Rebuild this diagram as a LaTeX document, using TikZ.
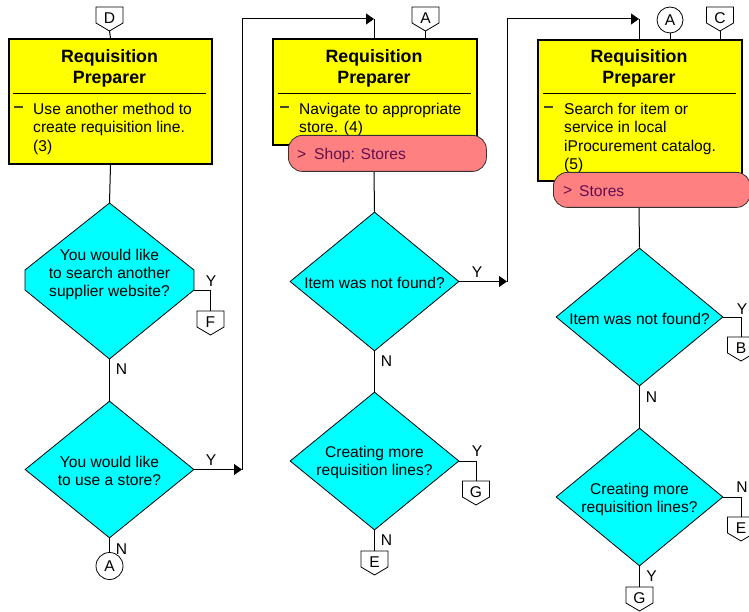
\documentclass[tikz,border=0pt]{standalone}
\usepackage{fontspec}
\setmainfont{Liberation Sans}
\usetikzlibrary{arrows.meta,shapes.geometric}
\definecolor{boxyellow}{RGB}{255,255,0}
\definecolor{dcyan}{RGB}{0,255,255}
\definecolor{pinkfill}{RGB}{255,128,128}
\definecolor{pinktext}{RGB}{96,16,80}
\definecolor{bulletc}{RGB}{70,70,40}
\newcommand\offpg[4]{%
  \draw[connline] (#2-13.5,#3) -- (#2+13.5,#3) -- (#2+13.5,#3+16) -- (#2,#3+24) -- (#2-13.5,#3+16) -- cycle;
  \node[lbl] (#1) at (#2,#3+11.5) {#4};
  \coordinate (#1-t) at (#2,#3);
  \coordinate (#1-b) at (#2,#3+24);
}
\begin{document}
\begin{tikzpicture}[x=1pt,y=-1pt,
  line/.style={draw=black, line width=1pt},
  arr/.style={line, -{Triangle[length=8pt,width=11pt]}},
  ybox/.style={draw=black, line width=2pt, fill=boxyellow, inner sep=0pt, anchor=north west},
  dia/.style={diamond, draw=black, line width=0.8pt, fill=dcyan, inner sep=0pt},
  dtext/.style={font=\fontsize{15.6}{18}\selectfont, align=center, inner sep=0pt},
  ttl/.style={font=\fontsize{17.8}{21}\selectfont\bfseries, align=center, inner sep=0pt, anchor=north},
  body/.style={font=\fontsize{15.6}{18.5}\selectfont, align=left, inner sep=0pt, anchor=north west},
  lbl/.style={font=\fontsize{15.6}{18}\selectfont, inner sep=0pt},
  sep/.style={draw=black, line width=0.9pt},
  bul/.style={draw=bulletc, line width=1.4pt},
  pinkbox/.style={draw=black!80, line width=0.8pt, fill=pinkfill, rounded corners=14pt, inner sep=0pt, anchor=north west},
  pinktxt/.style={font=\fontsize{15.6}{18}\selectfont, text=pinktext, inner sep=0pt, anchor=west},
  connline/.style={draw=black, line width=0.8pt, fill=white},
  conncirc/.style={circle, draw=black, line width=0.8pt, fill=white, inner sep=0pt, font=\fontsize{15.6}{18}\selectfont}
]
\clip (0,0) rectangle (749,612);
\fill[white] (0,0) rectangle (749,612);

% ---------- column 1 ----------
\offpg{oD}{109.5}{7}{D}
\node[ybox, minimum width=203, minimum height=125] (b1) at (8,38) {};
\node[ttl] (t1) at (109.5,49.5) {Requisition\\Preparer};
\draw[sep] (13,93) -- (206,93);
\draw[bul] (14,107) -- (23,107);
\node[body] (x1) at (33,102.5) {Use another method to\\create requisition line.\\(3)};

\draw[line width=0.8pt, fill=dcyan] (109.5,203) -- (194,270) -- (194,290) -- (109.5,359) -- (25,290) -- (25,270) -- cycle;
\coordinate (d1n) at (109.5,203);
\coordinate (d1e) at (194,290);
\coordinate (d1s) at (109.5,359);
\node[dtext] (q1) at (109.5,274.5) {You would like\\to search another\\supplier website?};

\node[dia, minimum width=169, minimum height=137] (d2) at (109.5,469.5) {};
\node[dtext] (q2) at (109.5,471) {You would like\\to use a store?};

\offpg{oF}{210.5}{311}{F}
\node[conncirc, minimum size=27] (cA1) at (109.5,566) {A};

\draw[line] (oD-b) -- (b1.north);
\draw[line] (b1.south) -- (d1n);
\draw[line] (d1e) -| (oF-t);
\node[lbl] (y1) at (211,281) {Y};
\draw[line] (d1s) -- (d2.north);
\node[lbl] (n1) at (121.5,369) {N};
\draw[line] (d2.south) -- (cA1.north);
\node[lbl] (n2) at (121.5,549) {N};

\coordinate (k1) at (242,469.5);
\coordinate (k2) at (242,19);
\coordinate (k3) at (374,19);
\draw[arr] (d2.east) -- (k1);
\node[lbl] (y2) at (211,460) {Y};
\draw[line] (k1) -- (k2);
\draw[arr] (k2) -- (k3);

% ---------- column 2 ----------
\offpg{oA2}{425.5}{7}{A}
\node[ybox, minimum width=204, minimum height=106] (b2) at (272,38) {};
\node[ttl] (t2) at (374,49.5) {Requisition\\Preparer};
\draw[sep] (278,93) -- (471,93);
\draw[bul] (280,107) -- (289,107);
\node[body] (x2) at (299,102.5) {Navigate to appropriate\\store. (4)};
\node[pinkbox, minimum width=198, minimum height=36] (p1) at (288,135) {};
\node[pinktxt] (pt1) at (297,155) {>};
\node[pinktxt] (pt1b) at (314,155) {Shop: Stores};

\node[dia, minimum width=169, minimum height=139] (d3) at (374.5,281.5) {};
\node[dtext] (q3) at (374.5,282.5) {Item was not found?};
\node[dia, minimum width=169, minimum height=138] (d4) at (374.5,461) {};
\node[dtext] (q4) at (374.5,462) {Creating more\\requisition lines?};

\offpg{oG1}{476}{481}{G}
\offpg{oE1}{374.5}{551}{E}

\draw[line] (k3) -- (b2.north -| k3);
\draw[line] (oA2-b) -- (oA2-b |- b2.north);
\draw[line] (p1.south -| k3) -- (d3.north);
\coordinate (k4) at (507,281.5);
\coordinate (k5) at (507,19);
\coordinate (k6) at (639,19);
\draw[arr] (d3.east) -- (k4);
\node[lbl] (y3) at (477,272) {Y};
\draw[line] (k4) -- (k5);
\draw[arr] (k5) -- (k6);
\draw[line] (d3.south) -- (d4.north);
\node[lbl] (n3) at (386.5,361) {N};
\draw[line] (d4.east) -| (oG1-t);
\node[lbl] (y4) at (477,451) {Y};
\draw[line] (d4.south) -- (oE1-t);
\node[lbl] (n4) at (386.5,540.5) {N};

% ---------- column 3 ----------
\node[conncirc, minimum size=26] (cA3) at (670,20) {A};
\offpg{oC}{720}{7}{C}
\node[ybox, minimum width=204, minimum height=141] (b3) at (537,39) {};
\node[ttl] (t3) at (639,49.5) {Requisition\\Preparer};
\draw[sep] (543,93) -- (736,93);
\draw[bul] (544,107) -- (553,107);
\node[body] (x3) at (564,102.5) {Search for item or\\service in local\\iProcurement catalog.\\(5)};
\node[pinkbox, minimum width=197, minimum height=35] (p2) at (553,172) {};
\node[pinktxt] (pt2) at (563,191) {>};
\node[pinktxt] (pt2b) at (579,191) {Stores};

\node[dia, minimum width=167, minimum height=138] (d5) at (639.5,317) {};
\node[dtext] (q5) at (639.5,318.5) {Item was not found?};
\node[dia, minimum width=167, minimum height=138] (d6) at (639.5,497) {};
\node[dtext] (q6) at (639.5,499) {Creating more\\requisition lines?};

\offpg{oB}{741}{337}{B}
\offpg{oE2}{741}{517}{E}
\offpg{oG2}{639.5}{587}{G}

\draw[line] (k6) -- (b3.north -| k6);
\draw[line] (cA3.south) -- (cA3.south |- b3.north);
\draw[line] (oC-b) -- (oC-b |- b3.north);
\draw[line] (p2.south -| k6) -- (d5.north);
\draw[line] (d5.east) -| (oB-t);
\node[lbl] (y5) at (742,309) {Y};
\draw[line] (d5.south) -- (d6.north);
\node[lbl] (n5) at (651.5,397) {N};
\draw[line] (d6.east) -| (oE2-t);
\node[lbl] (n6) at (742,487) {N};
\draw[line] (d6.south) -- (oG2-t);
\node[lbl] (y6) at (651.5,576) {Y};
\end{tikzpicture}
\end{document}
